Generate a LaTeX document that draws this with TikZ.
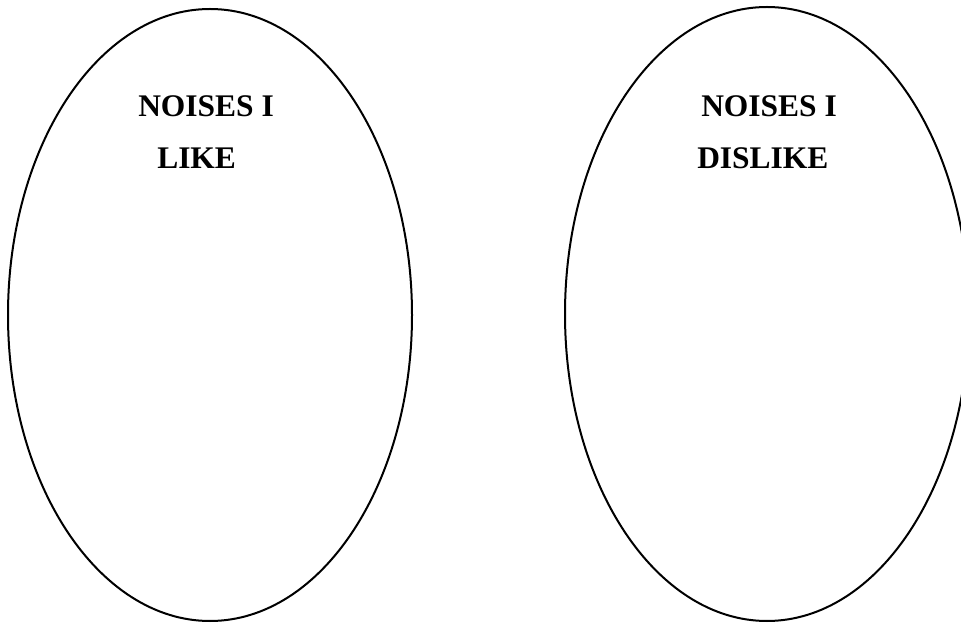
\documentclass[tikz,border=0pt]{standalone}
\usepackage{fontspec}
\setmainfont{Liberation Serif}
\usepackage{tikz}
\tikzset{
  every picture/.style={
    line join=round,
    line cap=round,
  },
  % one outline for both sorting bubbles
  bubble/.style={draw=black, line width=1.5pt},
  % bold heading inside a bubble
  heading/.style={anchor=base west, inner sep=0pt,
    font=\fontsize{23.6}{28}\selectfont\bfseries},
}

\begin{document}
\begin{tikzpicture}[x=0.75pt, y=-0.75pt]
    % Page frame
    \useasboundingbox (0,0) rectangle (961,623);
    \clip (0,0) rectangle (961,623);

    % Bubbles
    \coordinate (like) at (210,315);
    \coordinate (dislike) at (767,314);
    \draw[bubble] (like) ellipse [x radius=202, y radius=306];
    \draw[bubble] (dislike) ellipse [x radius=202, y radius=307];

    % Headings
    \node[heading] (likeA) at (138,117) {NOISES I};
    \node[heading] (likeB) at (157,169) {LIKE};
    \node[heading] (dislikeA) at (701,117) {NOISES I};
    \node[heading] (dislikeB) at (697,169) {DISLIKE};
\end{tikzpicture}
\end{document}
